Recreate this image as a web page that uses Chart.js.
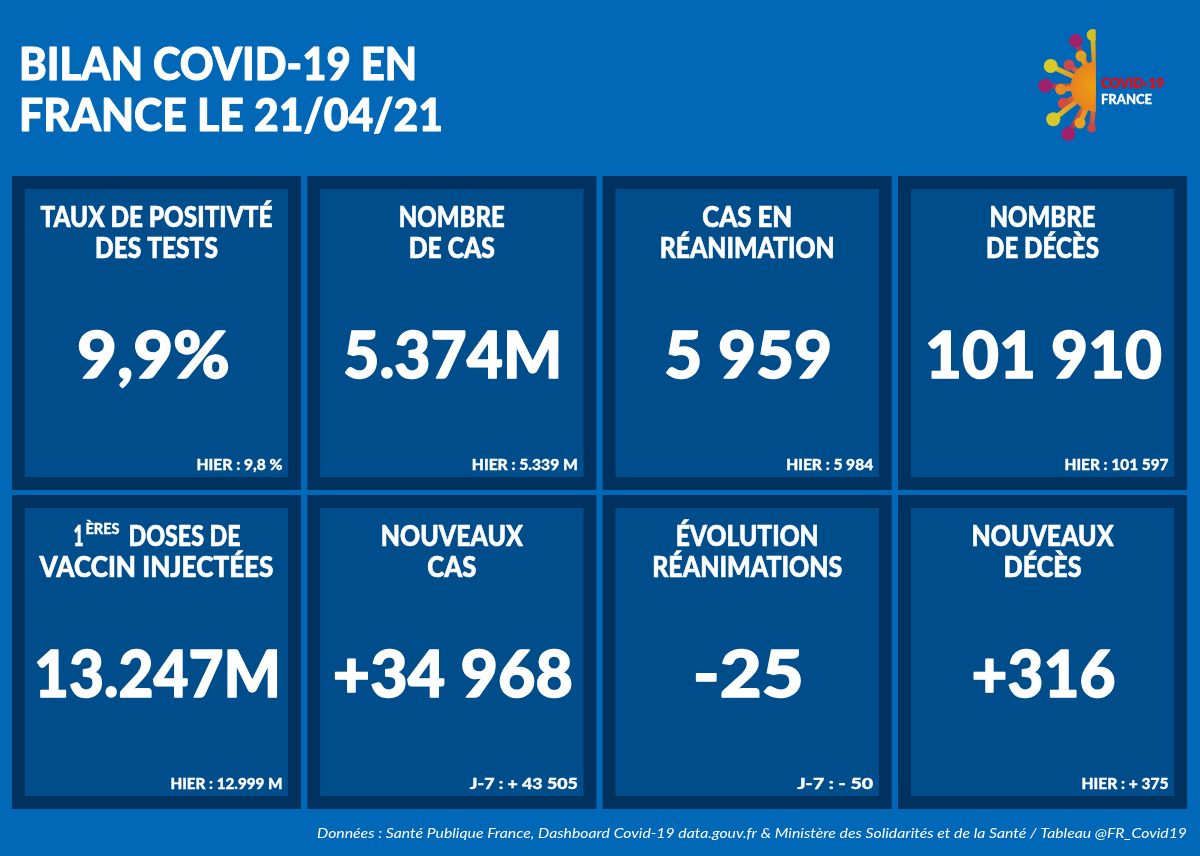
<!DOCTYPE html>
<html lang="fr">
<head>
<meta charset="utf-8">
<title>Bilan Covid-19</title>
<script src="https://cdn.jsdelivr.net/npm/chart.js@4"></script>
<style>
  html, body { margin: 0; padding: 0; background: #0068b7; }
  canvas { display: block; }
</style>
</head>
<body>
<canvas id="bilan" width="1200" height="856"></canvas>
<script>
// data
var headerLines = ['BILAN COVID-19 EN', 'FRANCE LE 21/04/21'];
var columns = ['col1', 'col2', 'col3', 'col4'];
var topTitles = [['TAUX DE POSITIVTÉ', 'DES TESTS'], ['NOMBRE', 'DE CAS'], ['CAS EN', 'RÉANIMATION'], ['NOMBRE', 'DE DÉCÈS']];
var topValues = ['9,9%', '5.374M', '5 959', '101 910'];
var topPrevious = ['HIER : 9,8 %', 'HIER : 5.339 M', 'HIER : 5 984', 'HIER : 101 597'];
var bottomTitles = [['1ÈRES DOSES DE', 'VACCIN INJECTÉES'], ['NOUVEAUX', 'CAS'], ['ÉVOLUTION', 'RÉANIMATIONS'], ['NOUVEAUX', 'DÉCÈS']];
var bottomValues = ['13.247M', '+34 968', '-25', '+316'];
var bottomPrevious = ['HIER : 12.999 M', 'J-7 : + 43 505', 'J-7 : - 50', 'HIER : + 375'];
var sourceLine = 'Données : Santé Publique France, Dashboard Covid-19 data.gouv.fr & Ministère des Solidarités et de la Santé / Tableau @FR_Covid19';

// widths measured on the picture, text gets stretched to fit them
var topTitleW = [[232, 123], [106, 86], [90, 175], [106, 113]];
var bottomTitleW = [[203, 234], [142, 49], [143, 190], [142, 78]];
var topValueW = [153, 219, 168, 237];
var bottomValueW = [247, 240, 111, 144];
var topPrevW = [86, 106, 87, 104];
var bottomPrevW = [112, 108, 76, 87];

var BG = '#0068b7', OUTER = '#00325f', INNER = '#004d8b';
var FONT = 'Lato, sans-serif';

function rowBars(gap) {
  return [0, 1].map(function(r) {
    return columns.map(function() { return [r + gap, r + 1 - gap]; });
  });
}
var outerBars = rowBars(0.0078);
var innerBars = rowBars(0.0486);

// draws text squeezed or widened to width w. align: left / center / right
function fitText(ctx, text, x, y, w, size, align, style, weight) {
  ctx.save();
  ctx.font = (style || '900') + ' ' + size + 'px ' + FONT;
  ctx.textBaseline = 'alphabetic';
  ctx.textAlign = 'left';
  var real = ctx.measureText(text).width;
  var left = align === 'center' ? x - w / 2 : align === 'right' ? x - w : x;
  ctx.translate(left, y);
  ctx.scale(w / real, 1);
  ctx.fillText(text, 0, 0);
  if (weight !== 0) {
    // lato black is lighter than the font of the picture
    ctx.strokeStyle = ctx.fillStyle;
    ctx.lineJoin = 'round';
    ctx.lineWidth = size * 0.022;
    ctx.strokeText(text, 0, 0);
  }
  ctx.restore();
}

var spikes = [
  [1075.7, 40.7, 6.7, '#a0206a'], [1092.7, 35, 6, '#d8c020'], [1081, 56, 5.5, '#e0a020'],
  [1050.7, 66, 7, '#d8c828'], [1069, 65, 5.5, '#c84a50'], [1045.3, 85.7, 7, '#a0206a'],
  [1060.7, 89.3, 5.5, '#e88a20'], [1063.3, 103.3, 5.5, '#d84a40'], [1053.3, 119.3, 7, '#d8c828'],
  [1068.3, 134, 7, '#a0206a'], [1080, 123, 5.5, '#e8a020'], [1091.7, 128, 4.5, '#c8484a']
];

function drawLogo(ctx) {
  var cx = 1095.7, cy = 86.7;
  ctx.save();
  ctx.beginPath();
  ctx.rect(1030, 20, cx - 1030, 125);
  ctx.clip();
  spikes.forEach(function(s) {
    var stem = ctx.createLinearGradient(cx, cy, s[0], s[1]);
    stem.addColorStop(0.3, '#e8801f');
    stem.addColorStop(1, s[3]);
    ctx.strokeStyle = stem;
    ctx.lineWidth = 5;
    ctx.beginPath();
    ctx.moveTo(cx, cy);
    ctx.lineTo(s[0], s[1]);
    ctx.stroke();
    ctx.fillStyle = s[3];
    ctx.beginPath();
    ctx.arc(s[0], s[1], s[2], 0, Math.PI * 2);
    ctx.fill();
  });
  var g = ctx.createRadialGradient(cx, cy, 2, cx, cy, 26);
  g.addColorStop(0, '#eda011');
  g.addColorStop(1, '#e8801f');
  ctx.fillStyle = g;
  ctx.beginPath();
  ctx.arc(cx, cy, 25, 0, Math.PI * 2);
  ctx.fill();
  ctx.restore();
  ctx.fillStyle = '#ff0000';
  fitText(ctx, 'COVID-19', 1101, 88, 63, 13.5, 'left');
  ctx.fillStyle = '#ffffff';
  fitText(ctx, 'FRANCE', 1101, 104, 51, 13.5, 'left');
}

var textPlugin = {
  id: 'bilanText',
  beforeDraw: function(chart) {
    var ctx = chart.ctx;
    ctx.save();
    ctx.fillStyle = BG;
    ctx.fillRect(0, 0, chart.width, chart.height);
    ctx.restore();
  },
  afterDraw: function(chart) {
    var ctx = chart.ctx, xs = chart.scales.x, ys = chart.scales.y;
    var rowH = ys.getPixelForValue(1) - ys.getPixelForValue(0);
    ctx.save();
    ctx.fillStyle = '#ffffff';

    fitText(ctx, headerLines[0], 19, 80, 398, 45, 'left');
    fitText(ctx, headerLines[1], 19, 131, 424, 45, 'left');

    [[topTitles, topValues, topPrevious, topTitleW, topValueW, topPrevW],
     [bottomTitles, bottomValues, bottomPrevious, bottomTitleW, bottomValueW, bottomPrevW]].forEach(function(row, r) {
      var top = ys.getPixelForValue(r);
      columns.forEach(function(c, i) {
        var cx = xs.getPixelForValue(i);
        var t = row[0][i];
        if (t[0].indexOf('1ÈRES') === 0) {
          // exposant dans le titre
          fitText(ctx, '1', cx - 83, top + 0.1677 * rowH, 10, 28, 'left');
          fitText(ctx, 'ÈRES', cx - 71, top + 0.13 * rowH, 34, 15, 'left');
          fitText(ctx, t[0].slice(6), cx - 28, top + 0.1677 * rowH, 112, 28, 'left');
        } else {
          fitText(ctx, t[0], cx, top + 0.1677 * rowH, row[3][i][0], 28, 'center');
        }
        fitText(ctx, t[1], cx, top + 0.2649 * rowH, row[3][i][1], 28, 'center');
        fitText(ctx, row[1][i], cx + (r === 0 && i === 0 ? -3 : 1), top + 0.641 * rowH, row[4][i], 64, 'center');
        fitText(ctx, row[2][i], cx + 126, top + 0.9295 * rowH, row[5][i], 15, 'right');
      });
    });

    fitText(ctx, sourceLine, 1187, 838, 870, 14, 'right', 'italic 400', 0);
    drawLogo(ctx);
    ctx.restore();
  }
};

new Chart(document.getElementById('bilan').getContext('2d'), {
  type: 'bar',
  plugins: [textPlugin],
  data: {
    labels: columns,
    datasets: [
      { data: outerBars[0], backgroundColor: OUTER, order: 2, barPercentage: 1, categoryPercentage: 0.9786 },
      { data: outerBars[1], backgroundColor: OUTER, order: 2, barPercentage: 1, categoryPercentage: 0.9786 },
      { data: innerBars[0], backgroundColor: INNER, order: 1, barPercentage: 1, categoryPercentage: 0.892 },
      { data: innerBars[1], backgroundColor: INNER, order: 1, barPercentage: 1, categoryPercentage: 0.892 }
    ]
  },
  options: {
    responsive: false,
    animation: false,
    grouped: false,
    layout: { padding: { left: 8.8, right: 9.8, top: 173.5, bottom: 44.5 } },
    scales: {
      x: { display: false, grid: { display: false } },
      y: { display: false, reverse: true, min: 0, max: 2, grid: { display: false } }
    },
    plugins: { legend: { display: false }, tooltip: { enabled: false } }
  }
});
</script>
</body>
</html>
